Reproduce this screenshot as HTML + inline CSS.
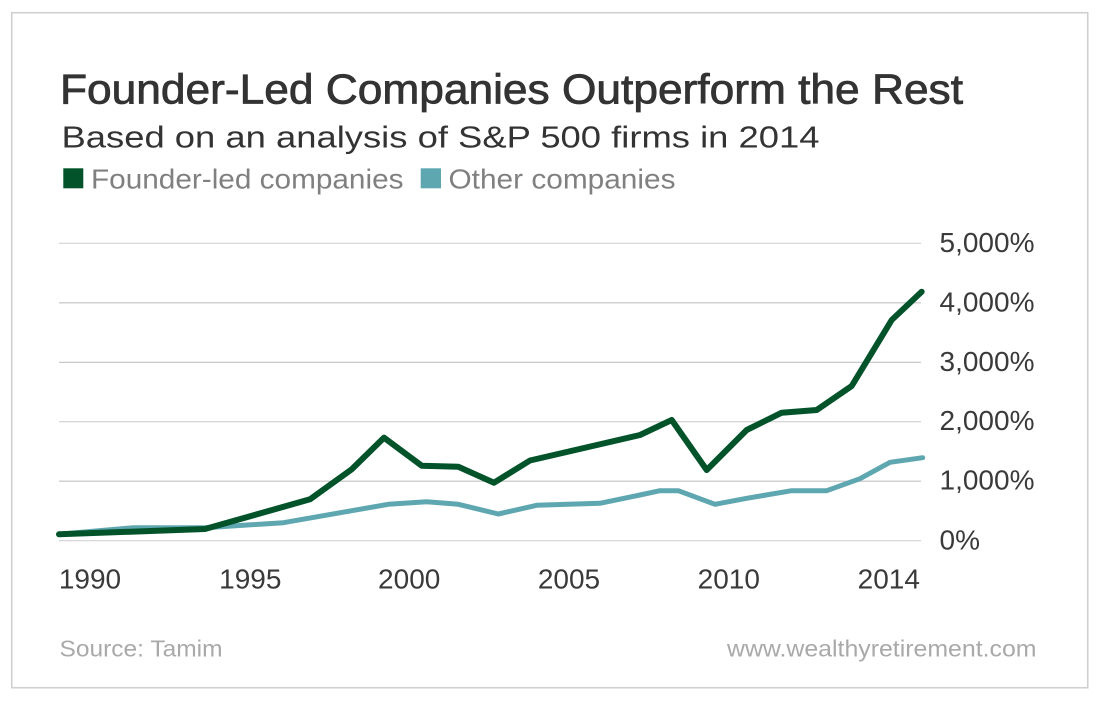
<!DOCTYPE html>
<html>
<head>
<meta charset="utf-8">
<style>
  html,body{margin:0;padding:0;background:#fff;}
  svg{display:block;}
  text{font-family:"Liberation Sans", Arial, sans-serif;}
</style>
</head>
<body>
<svg width="1101" height="701" viewBox="0 0 1101 701" xmlns="http://www.w3.org/2000/svg">
  <rect x="0" y="0" width="1101" height="701" fill="#ffffff"/>
  <!-- frame -->
  <rect x="11.75" y="12.75" width="1076" height="675" fill="none" stroke="#d0d0d0" stroke-width="1.6"/>

  <!-- title -->
  <text x="60" y="103.3" font-size="42" fill="#333333" stroke="#333333" stroke-width="0.8" textLength="903" lengthAdjust="spacingAndGlyphs">Founder-Led Companies Outperform the Rest</text>
  <text x="61.5" y="147.3" font-size="31" fill="#333333" textLength="758" lengthAdjust="spacingAndGlyphs">Based on an analysis of S&amp;P 500 firms in 2014</text>

  <!-- legend -->
  <rect x="63.3" y="168.3" width="20" height="20" fill="#02532a"/>
  <text x="91" y="188.3" font-size="28" fill="#808080" textLength="312.5" lengthAdjust="spacingAndGlyphs">Founder-led companies</text>
  <rect x="420.7" y="168.3" width="20.3" height="20" fill="#5fa7b0"/>
  <text x="448.5" y="188.3" font-size="28" fill="#808080" textLength="227" lengthAdjust="spacingAndGlyphs">Other companies</text>

  <!-- gridlines -->
  <g stroke="#c2c2c2" stroke-width="1.2">
    <line x1="59" y1="243.3" x2="921" y2="243.3" stroke="#d2d2d2"/>
    <line x1="59" y1="302.8" x2="921" y2="302.8"/>
    <line x1="59" y1="362.3" x2="921" y2="362.3"/>
    <line x1="59" y1="421.7" x2="921" y2="421.7" stroke="#cfcfcf"/>
    <line x1="59" y1="481.2" x2="921" y2="481.2"/>
    <line x1="59" y1="540.7" x2="921" y2="540.7" stroke="#d2d2d2"/>
  </g>

  <!-- y labels -->
  <g font-size="28" fill="#3a3a3a">
    <text x="939.5" y="251.8">5,000%</text>
    <text x="939.5" y="311.3">4,000%</text>
    <text x="939.5" y="370.8">3,000%</text>
    <text x="939.5" y="430.2">2,000%</text>
    <text x="939.5" y="489.7">1,000%</text>
    <text x="939.5" y="549.3">0%</text>
  </g>

  <!-- x labels -->
  <g font-size="28" fill="#3a3a3a" text-anchor="middle">
    <text x="90" y="588.3">1990</text>
    <text x="250.3" y="588.3">1995</text>
    <text x="409.2" y="588.3">2000</text>
    <text x="569" y="588.3">2005</text>
    <text x="728.8" y="588.3">2010</text>
    <text x="888.8" y="588.3">2014</text>
  </g>

  <!-- series: other companies -->
  <polyline fill="none" stroke="#5fa7b0" stroke-width="5" stroke-linejoin="round" stroke-linecap="round"
    points="59,534.3 133.3,527.7 205,527.7 283.3,522.7 388.3,504.3 426.7,501.7 458.3,504.3 498.3,514 536.7,505.3 600,503.3 640,495 660,490.7 678.3,490.7 715,504.3 746.7,498.3 791.7,490.7 826.7,490.7 860,478.7 890,462.3 922.7,457.7"/>

  <!-- series: founder-led -->
  <polyline fill="none" stroke="#02532a" stroke-width="6" stroke-linejoin="round" stroke-linecap="round"
    points="59,534.3 205,529 310,499.3 351.7,469.3 384,437.7 421.7,465.7 458.3,466.7 494,482.7 530,460.5 640,435 671.7,420 706.7,470 746.7,430 781.7,412.7 816.7,410 851.7,386 891.7,320 921.7,291.7"/>

  <!-- footer -->
  <text x="59.5" y="656.7" font-size="23.5" fill="#a9a9a9" textLength="163" lengthAdjust="spacingAndGlyphs">Source: Tamim</text>
  <text x="1036.5" y="656.7" font-size="23.5" fill="#a9a9a9" text-anchor="end" textLength="309.5" lengthAdjust="spacingAndGlyphs">www.wealthyretirement.com</text>
</svg>
</body>
</html>
